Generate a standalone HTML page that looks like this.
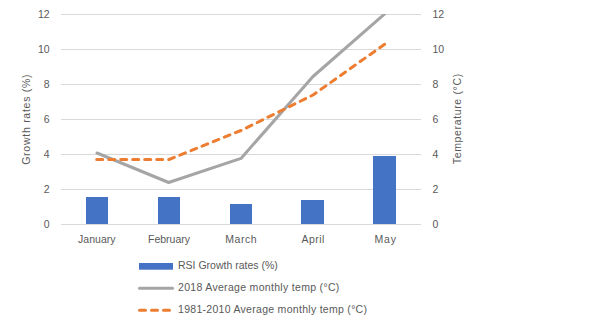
<!DOCTYPE html>
<html><head><meta charset="utf-8">
<style>
html,body{margin:0;padding:0;background:#fff;}
body{width:599px;height:332px;overflow:hidden;}
svg{display:block;}
text{font-family:"Liberation Sans",sans-serif;fill:#595959;}
</style></head><body>
<svg width="599" height="332" viewBox="0 0 599 332" xmlns="http://www.w3.org/2000/svg">
<rect x="0" y="0" width="599" height="332" fill="#fff"/>
<g stroke="#d9d9d9" stroke-width="1" shape-rendering="crispEdges">
<line x1="61" y1="14.5" x2="421" y2="14.5"/>
<line x1="61" y1="49.5" x2="421" y2="49.5"/>
<line x1="61" y1="84.5" x2="421" y2="84.5"/>
<line x1="61" y1="119.5" x2="421" y2="119.5"/>
<line x1="61" y1="154.5" x2="421" y2="154.5"/>
<line x1="61" y1="189.5" x2="421" y2="189.5"/>
<line x1="61" y1="224.5" x2="421" y2="224.5"/>
</g>
<g fill="#4472c4">
<rect x="86" y="197" width="22" height="27"/>
<rect x="158" y="197" width="22" height="27"/>
<rect x="230" y="204" width="22" height="20"/>
<rect x="301" y="200" width="23" height="24"/>
<rect x="373" y="156" width="23" height="68"/>
</g>
<defs><clipPath id="pc"><rect x="40" y="14" width="420" height="220"/></clipPath></defs>
<g clip-path="url(#pc)" fill="none" stroke-width="3" stroke-linejoin="round" stroke-linecap="round">
<polyline stroke="#a5a5a5" points="97,153 168.7,182.5 241,158.4 313,76.5 385,13.6"/>
<polyline stroke="#ed7d31" stroke-dasharray="6 6" points="96.7,159.5 169,159.5 241,130.5 313,95 385,44"/>
</g>
<g font-size="10.5" text-anchor="end">
<text x="49.7" y="18">12</text>
<text x="49.7" y="53">10</text>
<text x="49.7" y="88">8</text>
<text x="49.7" y="123">6</text>
<text x="49.7" y="158">4</text>
<text x="49.7" y="193">2</text>
<text x="49.7" y="228">0</text>
</g>
<g font-size="10.5" text-anchor="start">
<text x="432.5" y="18">12</text>
<text x="432.5" y="53">10</text>
<text x="432.5" y="88">8</text>
<text x="432.5" y="123">6</text>
<text x="432.5" y="158">4</text>
<text x="432.5" y="193">2</text>
<text x="432.5" y="228">0</text>
</g>
<g font-size="10.5" text-anchor="middle">
<text x="96.8" y="243.2">January</text>
<text x="169" y="243.2">February</text>
<text x="240.9" y="243.2" textLength="31.5">March</text>
<text x="312.9" y="243.2" textLength="23">April</text>
<text x="385.2" y="243.2" textLength="21.6">May</text>
</g>
<text font-size="10.5" transform="translate(30.4,119.6) rotate(-90)" text-anchor="middle" textLength="90.4">Growth rates (%)</text>
<text font-size="10.5" transform="translate(460.6,119) rotate(-90)" text-anchor="middle" textLength="90.3">Temperature (°C)</text>
<rect x="139" y="263" width="34" height="6.7" fill="#4472c4"/>
<line x1="139.5" y1="288.3" x2="172.5" y2="288.3" stroke="#a5a5a5" stroke-width="3" stroke-linecap="round"/>
<line x1="139.5" y1="310.3" x2="172.5" y2="310.3" stroke="#ed7d31" stroke-width="3" stroke-linecap="round" stroke-dasharray="6 6"/>
<g font-size="10.5">
<text x="178" y="268.8">RSI Growth rates (%)</text>
<text x="178" y="290.8" textLength="161.3">2018 Average monthly temp (°C)</text>
<text x="178" y="312.8" textLength="189">1981-2010 Average monthly temp (°C)</text>
</g>
</svg>
</body></html>
